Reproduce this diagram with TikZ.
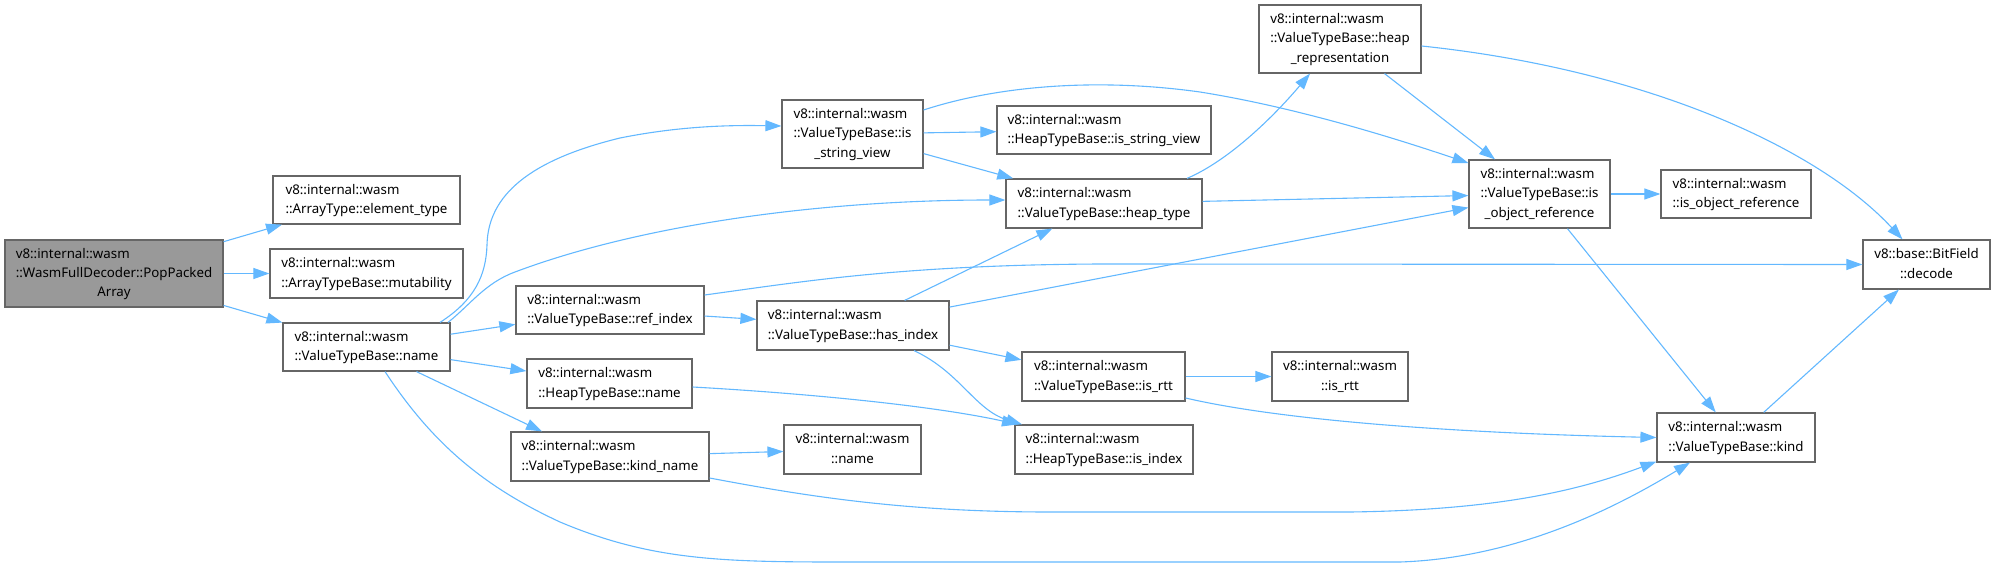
\documentclass[tikz,border=0pt]{standalone}
\usepackage{fontspec}
\setmainfont{Noto Sans}
\usetikzlibrary{arrows.meta,calc}
\definecolor{edgeblue}{HTML}{63B8FF}
\definecolor{boxline}{HTML}{666666}
\definecolor{rootfill}{HTML}{999999}
\newcommand\tl[1]{\begin{tabular}{@{}l@{}}#1\end{tabular}}
\newcommand\tc[1]{\begin{tabular}{@{}c@{}}#1\end{tabular}}
\newcommand\mc[1]{\multicolumn{1}{@{}c@{}}{#1}}
\tikzset{
  box/.style={draw=boxline, line width=1.2pt, fill=white, rectangle, inner sep=0pt,
    font=\fontsize{13.3}{19.3}\selectfont, text=black},
  rootbox/.style={box, fill=rootfill},
  e/.style={draw=edgeblue, line width=1.1pt, -{Triangle[length=16pt,width=11pt]}, edgeblue}
}
\begin{document}
\begin{tikzpicture}[x=1pt,y=-1pt]
\useasboundingbox (0,0) rectangle (1996,567);
% nodes
\node[rootbox, minimum width=218pt, minimum height=67pt] (root) at (114,273.5)
  {\tl{v8::internal::wasm\\::WasmFullDecoder::PopPacked\\\mc{Array}}};
\node[box, minimum width=187pt, minimum height=48pt] (elem) at (366.5,200)
  {\tl{v8::internal::wasm\\::ArrayType::element\_type}};
\node[box, minimum width=193pt, minimum height=49pt] (mut) at (366.5,273.5)
  {\tl{v8::internal::wasm\\::ArrayTypeBase::mutability}};
\node[box, minimum width=167pt, minimum height=48pt] (vname) at (366.5,347)
  {\tl{v8::internal::wasm\\::ValueTypeBase::name}};
\node[box, minimum width=141pt, minimum height=68pt] (isv) at (852.5,134)
  {\tl{v8::internal::wasm\\::ValueTypeBase::is\\\mc{\_string\_view}}};
\node[box, minimum width=188pt, minimum height=48pt] (refidx) at (610,310)
  {\tl{v8::internal::wasm\\::ValueTypeBase::ref\_index}};
\node[box, minimum width=192pt, minimum height=49pt] (hasidx) at (853,325.5)
  {\tl{v8::internal::wasm\\::ValueTypeBase::has\_index}};
\node[box, minimum width=165pt, minimum height=49pt] (htbname) at (609.5,383.5)
  {\tl{v8::internal::wasm\\::HeapTypeBase::name}};
\node[box, minimum width=198pt, minimum height=49pt] (kindname) at (610,456.5)
  {\tl{v8::internal::wasm\\::ValueTypeBase::kind\_name}};
\node[box, minimum width=137pt, minimum height=49pt] (wname) at (852.5,449.5)
  {\tc{v8::internal::wasm\\::name}};
\node[box, minimum width=162pt, minimum height=68pt] (heaprep) at (1340,39)
  {\tl{v8::internal::wasm\\::ValueTypeBase::heap\\\mc{\_representation}}};
\node[box, minimum width=214pt, minimum height=48pt] (htbisv) at (1104,130)
  {\tl{v8::internal::wasm\\::HeapTypeBase::is\_string\_view}};
\node[box, minimum width=196pt, minimum height=49pt] (heaptype) at (1104,203.5)
  {\tl{v8::internal::wasm\\::ValueTypeBase::heap\_type}};
\node[box, minimum width=163pt, minimum height=49pt] (isrttv) at (1103.5,376.5)
  {\tl{v8::internal::wasm\\::ValueTypeBase::is\_rtt}};
\node[box, minimum width=178pt, minimum height=49pt] (htbisidx) at (1104,449.5)
  {\tl{v8::internal::wasm\\::HeapTypeBase::is\_index}};
\node[box, minimum width=141pt, minimum height=68pt] (isobjref) at (1539.5,194)
  {\tl{v8::internal::wasm\\::ValueTypeBase::is\\\mc{\_object\_reference}}};
\node[box, minimum width=136pt, minimum height=49pt] (wisrtt) at (1340,376.5)
  {\tc{v8::internal::wasm\\::is\_rtt}};
\node[box, minimum width=150pt, minimum height=48pt] (wisobj) at (1736,194)
  {\tl{v8::internal::wasm\\::is\_object\_reference}};
\node[box, minimum width=127pt, minimum height=49pt] (decode) at (1926.5,264.5)
  {\tc{v8::base::BitField\\::decode}};
\node[box, minimum width=158pt, minimum height=49pt] (kind) at (1736,437.5)
  {\tl{v8::internal::wasm\\::ValueTypeBase::kind}};
% edges
\draw[e] (root) -- (elem);
\draw[e] (root) -- (mut);
\draw[e] (root) -- (vname);
\draw[e] ($(vname.north)+(73.5,0)$) .. controls (475,300) and (486,275) .. (487,245)
  .. controls (488,195) and (530,160) .. (620,138)
  .. controls (680,126) and (730,125) .. ($(isv.west)+(0,-8)$);
\draw[e] ($(vname.north)+(81.5,0)$) .. controls (470,305) and (485,283) .. (515,272)
  .. controls (640,225) and (820,200) .. ($(heaptype.west)+(0,-3.5)$);
\draw[e] (vname) -- (refidx);
\draw[e] (vname) -- (htbname);
\draw[e] ($(vname.south)+(50,0)$) -- ($(kindname.north)+(-68,0)$);
\draw[e] ($(vname.south)+(18.5,0)$) .. controls (430,440) and (480,485) .. (560,522)
  .. controls (650,560) and (720,562) .. (840,562) -- (1400,562)
  .. controls (1520,558) and (1620,505) .. ($(kind.south)+(-46,0)$);
\draw[e] (isv) -- (htbisv);
\draw[e] (isv) -- (heaptype);
\draw[e] ($(isv.east)+(0,-24)$) .. controls (1000,85) and (1100,78) .. (1200,92)
  .. controls (1300,108) and (1400,140) .. ($(isobjref.west)+(0,-31)$);
\draw[e] ($(heaptype.north)+(83,0)$) .. controls (1230,160) and (1275,115) .. ($(heaprep.south)+(-30,0)$);
\draw[e] (heaptype) -- (isobjref);
\draw[e] (heaprep) -- (isobjref);
\draw[e] ($(heaprep.east)+(0,7)$) .. controls (1650,70) and (1820,150) .. ($(decode.north)+(-24,0)$);
\draw[e] ($(refidx.east)+(0,-15)$) .. controls (800,282) and (900,265) .. (1100,264) -- (decode.west);
\draw[e] (refidx) -- (hasidx);
\draw[e] (hasidx) -- (heaptype);
\draw[e] (hasidx) -- (isobjref);
\draw[e] (hasidx) -- (isrttv);
\draw[e] ($(hasidx.south)+(61,0)$) .. controls (960,372) and (975,410) .. ($(htbisidx.north)+(-82,0)$);
\draw[e] ($(htbname.east)+(0,3.5)$) .. controls (800,393) and (930,405) .. ($(htbisidx.north)+(-86,0)$);
\draw[e] (kindname) -- (wname);
\draw[e] ($(kindname.east)+(0,21.5)$) .. controls (800,495) and (900,512) .. (1050,512) -- (1350,512)
  .. controls (1500,510) and (1580,490) .. ($(kind.south west)+(0,-1)$);
\draw[e] (isrttv) -- (wisrtt);
\draw[e] ($(isrttv.east)+(0,21.5)$) .. controls (1280,420) and (1450,433) .. (kind.west);
\draw[e] (isobjref) -- (wisobj);
\draw[e] (isobjref) -- (kind);
\draw[e] (kind) -- (decode);
\end{tikzpicture}
\end{document}
